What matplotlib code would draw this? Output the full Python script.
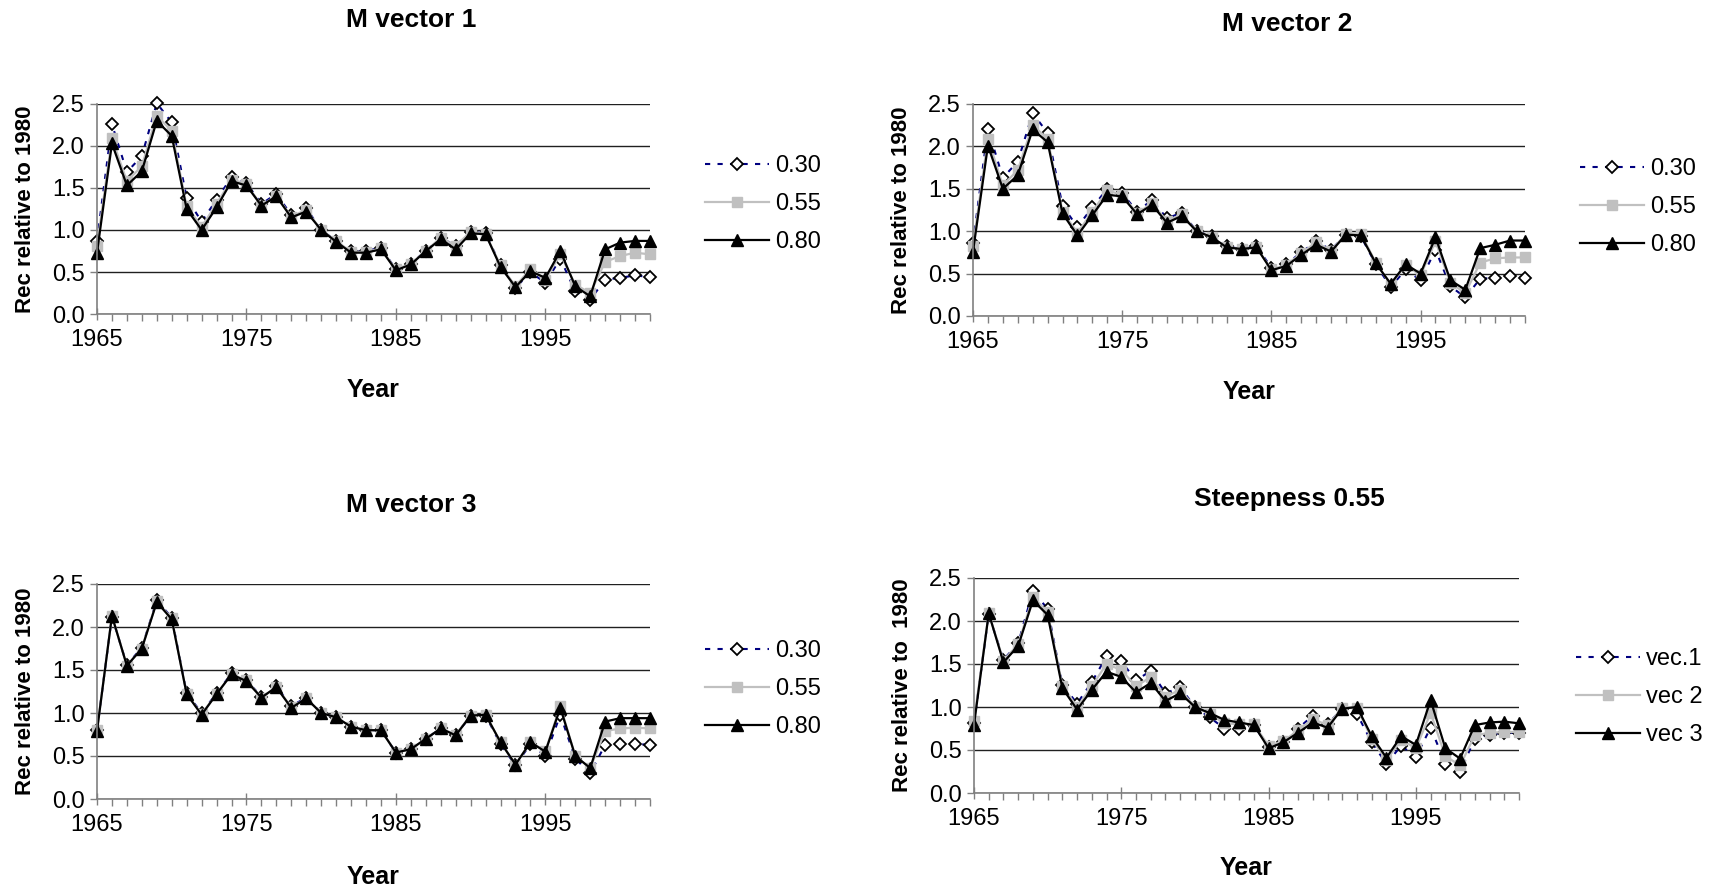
import matplotlib
matplotlib.use("Agg")
import matplotlib.pyplot as plt
from matplotlib.ticker import MultipleLocator, FixedLocator

plt.rcParams['font.family'] = ['Liberation Sans', 'DejaVu Sans']

years = list(range(1965, 2003))

# M vector 1
mv1_030 = [0.87, 2.26, 1.69, 1.88, 2.51, 2.28, 1.38, 1.10, 1.36, 1.63, 1.56, 1.31, 1.43, 1.18, 1.26, 1.00,
           0.87, 0.75, 0.75, 0.79, 0.53, 0.60, 0.75, 0.91, 0.81, 0.98, 0.96, 0.58, 0.31, 0.50, 0.37, 0.66,
           0.27, 0.17, 0.41, 0.43, 0.46, 0.44]
mv1_055 = [0.81, 2.09, 1.58, 1.76, 2.36, 2.18, 1.28, 1.04, 1.31, 1.60, 1.55, 1.29, 1.41, 1.16, 1.24, 1.00,
           0.87, 0.74, 0.74, 0.78, 0.53, 0.60, 0.75, 0.91, 0.81, 0.98, 0.95, 0.58, 0.33, 0.54, 0.41, 0.71,
           0.35, 0.25, 0.62, 0.69, 0.73, 0.71]
mv1_080 = [0.73, 2.03, 1.53, 1.70, 2.30, 2.12, 1.25, 1.00, 1.27, 1.58, 1.53, 1.29, 1.40, 1.15, 1.22, 1.00,
           0.86, 0.73, 0.73, 0.77, 0.52, 0.59, 0.75, 0.89, 0.77, 0.96, 0.95, 0.56, 0.32, 0.51, 0.43, 0.75,
           0.33, 0.21, 0.77, 0.85, 0.87, 0.87]

# M vector 2
mv2_030 = [0.86, 2.21, 1.63, 1.82, 2.39, 2.16, 1.30, 1.05, 1.28, 1.50, 1.45, 1.23, 1.37, 1.15, 1.22, 1.00,
           0.94, 0.82, 0.79, 0.82, 0.57, 0.61, 0.75, 0.88, 0.78, 0.96, 0.94, 0.61, 0.34, 0.55, 0.42, 0.78,
           0.35, 0.22, 0.44, 0.45, 0.47, 0.45]
mv2_055 = [0.82, 2.09, 1.54, 1.72, 2.25, 2.09, 1.23, 0.98, 1.23, 1.48, 1.43, 1.21, 1.33, 1.12, 1.20, 1.00,
           0.93, 0.81, 0.79, 0.81, 0.55, 0.60, 0.74, 0.87, 0.77, 0.97, 0.97, 0.63, 0.37, 0.60, 0.48, 0.88,
           0.39, 0.27, 0.63, 0.68, 0.69, 0.69]
mv2_080 = [0.76, 2.01, 1.50, 1.66, 2.20, 2.05, 1.21, 0.95, 1.19, 1.43, 1.41, 1.20, 1.31, 1.10, 1.18, 1.00,
           0.93, 0.81, 0.79, 0.81, 0.54, 0.59, 0.72, 0.84, 0.76, 0.96, 0.95, 0.62, 0.38, 0.61, 0.50, 0.93,
           0.42, 0.31, 0.80, 0.84, 0.89, 0.89]

# M vector 3
mv3_030 = [0.80, 2.12, 1.56, 1.76, 2.31, 2.11, 1.23, 1.00, 1.23, 1.46, 1.38, 1.19, 1.31, 1.08, 1.18, 1.00,
           0.95, 0.84, 0.80, 0.80, 0.54, 0.58, 0.70, 0.82, 0.75, 0.96, 0.97, 0.64, 0.39, 0.64, 0.50, 0.98,
           0.47, 0.30, 0.63, 0.64, 0.64, 0.63]
mv3_055 = [0.80, 2.13, 1.55, 1.75, 2.30, 2.10, 1.22, 0.99, 1.22, 1.45, 1.38, 1.18, 1.30, 1.07, 1.17, 1.00,
           0.95, 0.84, 0.80, 0.80, 0.54, 0.58, 0.70, 0.82, 0.75, 0.97, 0.98, 0.66, 0.40, 0.66, 0.56, 1.08,
           0.50, 0.36, 0.79, 0.82, 0.83, 0.82]
mv3_080 = [0.79, 2.13, 1.55, 1.75, 2.29, 2.09, 1.22, 0.98, 1.22, 1.45, 1.37, 1.18, 1.30, 1.06, 1.17, 1.00,
           0.95, 0.84, 0.80, 0.80, 0.54, 0.58, 0.70, 0.82, 0.74, 0.97, 0.98, 0.66, 0.40, 0.66, 0.55, 1.06,
           0.50, 0.36, 0.90, 0.94, 0.94, 0.94]

# Steepness 0.55
st_vec1 = [0.81, 2.08, 1.55, 1.74, 2.35, 2.14, 1.26, 1.04, 1.29, 1.59, 1.53, 1.31, 1.42, 1.16, 1.23, 1.00,
           0.88, 0.75, 0.75, 0.79, 0.53, 0.59, 0.75, 0.90, 0.80, 0.98, 0.92, 0.59, 0.34, 0.55, 0.42, 0.76,
           0.34, 0.25, 0.63, 0.68, 0.70, 0.70]
st_vec2 = [0.84, 2.09, 1.54, 1.73, 2.28, 2.10, 1.25, 1.00, 1.24, 1.50, 1.43, 1.24, 1.35, 1.12, 1.20, 1.00,
           0.92, 0.81, 0.80, 0.80, 0.55, 0.60, 0.73, 0.86, 0.79, 0.99, 0.99, 0.63, 0.38, 0.62, 0.52, 0.93,
           0.43, 0.32, 0.67, 0.70, 0.71, 0.71]
st_vec3 = [0.79, 2.09, 1.52, 1.71, 2.24, 2.07, 1.22, 0.97, 1.20, 1.41, 1.35, 1.17, 1.28, 1.07, 1.16, 1.00,
           0.93, 0.85, 0.82, 0.79, 0.52, 0.59, 0.70, 0.82, 0.76, 0.98, 1.00, 0.66, 0.41, 0.66, 0.56, 1.08,
           0.52, 0.40, 0.79, 0.82, 0.83, 0.81]

labels_m = ['0.30', '0.55', '0.80']
labels_s = ['vec.1', 'vec 2', 'vec 3']

W, H = 1720, 889

panels = [
    dict(title='M vector 1', series=[mv1_030, mv1_055, mv1_080], labels=labels_m,
         rect=[97/W, 1-314/H, 553/W, 210/H], ylab='Rec relative to 1980',
         leg=(705/W, 1-155/H), tpos=(411/W, 1-20/H), xlpad=20),
    dict(title='M vector 2', series=[mv2_030, mv2_055, mv2_080], labels=labels_m,
         rect=[973/W, 1-316/H, 552/W, 212/H], ylab='Rec relative to 1980',
         leg=(1580/W, 1-158/H), tpos=(1287/W, 1-24/H), xlpad=20),
    dict(title='M vector 3', series=[mv3_030, mv3_055, mv3_080], labels=labels_m,
         rect=[97/W, 1-799/H, 553/W, 215/H], ylab='Rec relative to 1980',
         leg=(705/W, 1-640/H), tpos=(411/W, 1-505/H), xlpad=21),
    dict(title='Steepness 0.55', series=[st_vec1, st_vec2, st_vec3], labels=labels_s,
         rect=[974/W, 1-793/H, 545/W, 215/H], ylab='Rec relative to  1980',
         leg=(1576/W, 1-648/H), tpos=(1289/W, 1-499/H), xlpad=19),
]

styles = [
    dict(color='#000080', linestyle=(0, (2.5, 3.5)), linewidth=1.5, marker='D', markersize=6.5,
         markerfacecolor='white', markeredgecolor='black', markeredgewidth=1.3),
    dict(color='#C0C0C0', linestyle='-', linewidth=1.6, marker='s', markersize=7,
         markerfacecolor='#C0C0C0', markeredgecolor='#C0C0C0'),
    dict(color='black', linestyle='-', linewidth=1.6, marker='^', markersize=9,
         markerfacecolor='black', markeredgecolor='black'),
]

fig = plt.figure(figsize=(W/100, H/100), dpi=100)

for p in panels:
    ax = fig.add_axes(p['rect'])
    handles = []
    for s, lab, st in zip(p['series'], p['labels'], styles):
        h, = ax.plot(years, s, label=lab, clip_on=False, **st)
        handles.append(h)
    ax.set_xlim(1965, 2002)
    ax.set_ylim(0, 2.5)
    ax.set_yticks([0, 0.5, 1.0, 1.5, 2.0, 2.5])
    ax.set_yticklabels(['0.0', '0.5', '1.0', '1.5', '2.0', '2.5'])
    ax.xaxis.set_major_locator(FixedLocator([1965, 1975, 1985, 1995]))
    ax.xaxis.set_minor_locator(MultipleLocator(1))
    ax.grid(axis='y', color='#202020', linewidth=1.0)
    ax.set_axisbelow(True)
    for sp in ['top', 'right']:
        ax.spines[sp].set_visible(False)
    for sp in ['left', 'bottom']:
        ax.spines[sp].set_color('#808080')
        ax.spines[sp].set_linewidth(1.2)
    ax.tick_params(axis='x', which='major', direction='inout', length=9, width=1.0, color='#808080',
                   labelsize=17, pad=6)
    ax.tick_params(axis='x', which='minor', direction='out', length=5, width=1.0, color='#808080')
    ax.tick_params(axis='y', which='major', direction='out', length=5, width=1.0, color='#808080',
                   labelsize=17, pad=4)
    fig.text(p['tpos'][0], p['tpos'][1], p['title'], fontsize=19, fontweight='bold',
             ha='center', va='center')
    ax.set_xlabel('Year', fontsize=18, fontweight='bold', labelpad=p['xlpad'])
    ax.set_ylabel(p['ylab'], fontsize=16, fontweight='bold', labelpad=11)
    fig.legend(handles=handles, labels=p['labels'], loc='upper left', bbox_to_anchor=p['leg'],
               frameon=False, fontsize=17, handlelength=2.7, handletextpad=0.25, labelspacing=0.68,
               borderpad=0, borderaxespad=0)

fig.savefig('out.png', dpi=100)
